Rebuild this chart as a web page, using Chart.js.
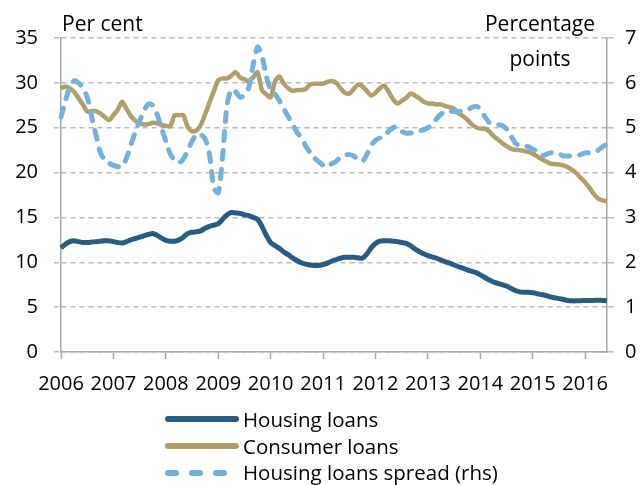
<!DOCTYPE html>
<html>
<head>
<meta charset="utf-8">
<script src="https://cdn.jsdelivr.net/npm/chart.js@4"></script>
<style>
  html, body { margin: 0; padding: 0; background: #fff; }
  #wrap { position: relative; width: 644px; height: 485px; font-family: "Open Sans", Lato, sans-serif; color: #000; }
  canvas { position: absolute; left: 0; top: 0; }
  .ttl { position: absolute; font-size: 21px; line-height: 21px; white-space: nowrap; }
  #legend { position: absolute; left: 165px; top: 406px; font-size: 20.5px; line-height: 20.5px; }
  .row { height: 26.7px; display: flex; align-items: center; white-space: nowrap; }
  .row svg { width: 76px; height: 10px; margin-right: 2px; }
</style>
</head>
<body>
<div id="wrap">
  <canvas id="c" width="644" height="485"></canvas>
  <div class="ttl" style="left:62px; top:13px;">Per cent</div>
  <div class="ttl" style="left:480px; top:13px; width:120px; text-align:center;">Percentage</div>
  <div class="ttl" style="left:480px; top:48px; width:120px; text-align:center;">points</div>
  <div id="legend"></div>
</div>
<script>
// Monthly data, Jan 2006 .. Jun 2016
const startYear = 2006;
const yearTicks = ['2006','2007','2008','2009','2010','2011','2012','2013','2014','2015','2016'];
const housingLoans = [
  11.6, 12.0, 12.3, 12.4, 12.3, 12.2, 12.2, 12.25, 12.3, 12.35, 12.4, 12.4,
  12.3, 12.2, 12.15, 12.3, 12.5, 12.65, 12.8, 12.95, 13.1, 13.2, 13.0, 12.7,
  12.45, 12.35, 12.35, 12.5, 12.8, 13.2, 13.35, 13.4, 13.5, 13.8, 14.0, 14.15,
  14.3, 14.8, 15.3, 15.55, 15.5, 15.45, 15.3, 15.2, 15.0, 14.8, 14.0, 13.0,
  12.2, 11.85, 11.55, 11.15, 10.85, 10.5, 10.2, 9.95, 9.8, 9.7, 9.65, 9.65,
  9.75, 9.9, 10.15, 10.3, 10.45, 10.55, 10.55, 10.55, 10.5, 10.45, 10.9, 11.6,
  12.1, 12.35, 12.4, 12.4, 12.35, 12.3, 12.2, 12.1, 11.85, 11.5, 11.2, 10.95,
  10.75, 10.6, 10.45, 10.25, 10.05, 9.9, 9.7, 9.5, 9.35, 9.15, 9.0, 8.85,
  8.6, 8.3, 8.05, 7.8, 7.65, 7.5, 7.35, 7.1, 6.85, 6.7, 6.65, 6.65,
  6.6, 6.5, 6.4, 6.3, 6.15, 6.05, 5.95, 5.85, 5.75, 5.7, 5.7, 5.72,
  5.75, 5.75, 5.75, 5.78, 5.75, 5.72
];
const consumerLoans = [
  29.4, 29.6, 29.4, 29.0, 28.3, 27.6, 26.8, 26.85, 26.85, 26.6, 26.2, 25.85,
  26.4, 27.0, 27.9, 27.1, 26.3, 25.8, 25.5, 25.35, 25.4, 25.55, 25.5, 25.3,
  25.2, 25.15, 26.4, 26.4, 26.4, 25.1, 24.6, 24.7, 25.3, 26.5, 27.8, 29.1,
  30.3, 30.5, 30.5, 30.8, 31.2, 30.6, 30.4, 30.2, 30.6, 31.2, 29.2, 28.7,
  28.4, 30.2, 30.7, 29.9, 29.4, 29.1, 29.2, 29.2, 29.3, 29.8, 29.9, 29.9,
  29.9, 30.1, 30.2, 30.0, 29.4, 28.9, 28.8, 29.3, 29.8, 29.6, 29.1, 28.6,
  28.9, 29.4, 29.7, 29.0, 28.2, 27.7, 28.0, 28.3, 28.8, 28.6, 28.3, 27.9,
  27.7, 27.7, 27.6, 27.6, 27.4, 27.3, 27.1, 26.6, 26.3, 25.9, 25.4, 25.05,
  24.9, 24.9, 24.6, 24.1, 23.7, 23.3, 22.95, 22.65, 22.55, 22.5, 22.4, 22.3,
  22.1, 21.8, 21.5, 21.25, 21.0, 20.95, 20.9, 20.8, 20.6, 20.3, 19.9, 19.4,
  18.9, 18.3, 17.6, 17.1, 16.9, 16.8
];
const housingSpread = [
  5.24, 5.6, 5.9, 6.05, 6.0, 5.88, 5.68, 5.25, 4.85, 4.45, 4.28, 4.21,
  4.16, 4.13, 4.13, 4.33, 4.62, 4.9, 5.15, 5.38, 5.53, 5.5, 5.3, 5.0,
  4.7, 4.42, 4.28, 4.22, 4.3, 4.5, 4.7, 4.85, 4.85, 4.75, 4.4, 3.65,
  3.55, 4.35, 5.5, 5.85, 5.8, 5.68, 5.72, 5.9, 6.4, 6.8, 6.6, 6.15,
  5.84, 5.75, 5.6, 5.42, 5.25, 5.08, 4.9, 4.78, 4.6, 4.45, 4.33, 4.24,
  4.17, 4.13, 4.2, 4.25, 4.35, 4.39, 4.4, 4.37, 4.3, 4.25, 4.4, 4.6,
  4.72, 4.77, 4.8, 4.92, 5.0, 5.02, 4.92, 4.88, 4.88, 4.9, 4.93, 4.95,
  5.0, 5.06, 5.2, 5.3, 5.37, 5.37, 5.36, 5.36, 5.38, 5.39, 5.45, 5.48,
  5.42, 5.25, 5.12, 5.08, 5.07, 5.05, 4.97, 4.82, 4.66, 4.6, 4.58, 4.58,
  4.52, 4.47, 4.38, 4.4, 4.44, 4.44, 4.42, 4.37, 4.37, 4.37, 4.38, 4.4,
  4.44, 4.44, 4.45, 4.5, 4.58, 4.63
];
const seriesNames = ['Housing loans', 'Consumer loans', 'Housing loans spread (rhs)'];
const seriesColors = ['#2a5b80', '#ae9f6e', '#79b0d8'];

// month category labels
const months = [];
for (let i = 0; i < housingLoans.length; i++) {
  months.push((startYear + Math.floor(i / 12)) + '-' + String(i % 12 + 1).padStart(2, '0'));
}

const GRID = '#bdbdbd';
const AXIS = '#a6a6a6';
const FONT = { family: '"Open Sans", Lato, sans-serif', size: 20 };

new Chart(document.getElementById('c'), {
  type: 'line',
  data: {
    labels: months,
    datasets: [
      { label: seriesNames[0], data: housingLoans, yAxisID: 'y', borderColor: seriesColors[0], borderWidth: 5, order: 2 },
      { label: seriesNames[1], data: consumerLoans, yAxisID: 'y', borderColor: seriesColors[1], borderWidth: 4.5, order: 1 },
      { label: seriesNames[2], data: housingSpread, yAxisID: 'y1', borderColor: seriesColors[2], borderWidth: 5, borderDash: [9, 10], borderCapStyle: 'round', order: 0 }
    ]
  },
  options: {
    responsive: false,
    animation: false,
    devicePixelRatio: 1,
    layout: { padding: { left: 0, right: 0, top: 38, bottom: 89 } },
    elements: { point: { radius: 0 }, line: { tension: 0.25, borderJoinStyle: 'round', fill: false } },
    plugins: { legend: { display: false }, tooltip: { enabled: false } },
    scales: {
      x: {
        type: 'category',
        offset: false,
        afterFit: s => { s.height = 44; },
        border: { display: true, color: AXIS, width: 1.5 },
        grid: {
          drawOnChartArea: false, drawTicks: true, tickLength: 7, tickWidth: 1.5,
          tickColor: ctx => (ctx.index % 12 === 0 ? AXIS : 'rgba(0,0,0,0)')
        },
        ticks: {
          autoSkip: false, maxRotation: 0, minRotation: 0, padding: 13,
          color: '#000', font: FONT,
          callback: (v, i) => (i % 12 === 0 ? yearTicks[i / 12] : '')
        }
      },
      y: {
        position: 'left', min: 0, max: 35,
        afterFit: s => { s.width = 61; },
        border: { display: true, color: AXIS, width: 1.5, dash: [5, 4] },
        grid: { color: GRID, lineWidth: 1.5, tickLength: 7, tickColor: GRID, tickBorderDash: [5, 4] },
        ticks: { stepSize: 5, padding: 16, color: '#000', font: FONT }
      },
      y1: {
        position: 'right', min: 0, max: 7,
        afterFit: s => { s.width = 37; },
        border: { display: true, color: AXIS, width: 1.5 },
        grid: { drawOnChartArea: false, tickLength: 7, tickColor: GRID, lineWidth: 1.5 },
        ticks: { stepSize: 1, padding: 11, color: '#000', font: FONT }
      }
    }
  }
});

// HTML legend built from series
const legend = document.getElementById('legend');
seriesNames.forEach((name, i) => {
  const row = document.createElement('div');
  row.className = 'row';
  const dash = i === 2 ? 'stroke-dasharray="8 16"' : '';
  row.innerHTML = '<svg viewBox="0 0 76 10"><line x1="3" y1="5" x2="71" y2="5" stroke="' + seriesColors[i] +
    '" stroke-width="6" stroke-linecap="round" ' + dash + '/></svg><span>' + name + '</span>';
  legend.appendChild(row);
});
</script>
</body>
</html>
